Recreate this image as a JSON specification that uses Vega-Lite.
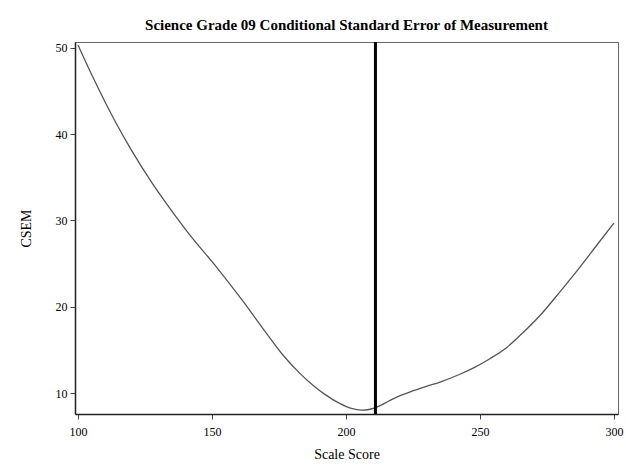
{
  "$schema": "https://vega.github.io/schema/vega-lite/v6.json",
  "width": 543,
  "height": 372,
  "autosize": {"type": "none"},
  "padding": {"left": 75, "top": 42, "right": 8, "bottom": 60},
  "background": "white",
  "title": {
    "text": "Science Grade 09 Conditional Standard Error of Measurement",
    "font": "Liberation Serif",
    "fontSize": 15,
    "fontWeight": "bold",
    "color": "black",
    "anchor": "middle",
    "offset": 8
  },
  "config": {
    "view": {"stroke": "#666", "strokeWidth": 1},
    "axis": {
      "labelFont": "Liberation Serif",
      "titleFont": "Liberation Serif",
      "labelFontSize": 12,
      "titleFontSize": 14,
      "titleFontWeight": "normal",
      "labelColor": "black",
      "titleColor": "black",
      "domainColor": "#222",
      "domainWidth": 1.5,
      "tickColor": "#444",
      "tickSize": 5,
      "grid": false
    }
  },
  "datasets": {
    "curve": [
      {"score": 100.0, "csem": 50.3},
      {"score": 106.0, "csem": 46.3},
      {"score": 113.8, "csem": 41.5},
      {"score": 120.0, "csem": 38.1},
      {"score": 127.5, "csem": 34.4},
      {"score": 134.3, "csem": 31.4},
      {"score": 141.8, "csem": 28.3},
      {"score": 151.7, "csem": 24.6},
      {"score": 161.7, "csem": 20.6},
      {"score": 170.4, "csem": 16.9},
      {"score": 176.0, "csem": 14.6},
      {"score": 182.8, "csem": 12.3},
      {"score": 187.8, "csem": 10.9},
      {"score": 192.0, "csem": 9.9},
      {"score": 197.8, "csem": 8.8},
      {"score": 202.0, "csem": 8.25},
      {"score": 205.9, "csem": 8.05},
      {"score": 209.0, "csem": 8.15},
      {"score": 211.5, "csem": 8.4},
      {"score": 216.0, "csem": 9.1},
      {"score": 220.0, "csem": 9.7},
      {"score": 225.1, "csem": 10.3},
      {"score": 230.0, "csem": 10.8},
      {"score": 235.1, "csem": 11.3},
      {"score": 242.5, "csem": 12.2},
      {"score": 248.0, "csem": 13.0},
      {"score": 253.7, "csem": 14.0},
      {"score": 260.0, "csem": 15.3},
      {"score": 266.0, "csem": 17.0},
      {"score": 272.4, "csem": 19.0},
      {"score": 280.0, "csem": 21.8},
      {"score": 287.3, "csem": 24.6},
      {"score": 294.0, "csem": 27.3},
      {"score": 300.0, "csem": 29.7}
    ],
    "cut": [{"score": 211}]
  },
  "layer": [
    {
      "data": {"name": "curve"},
      "mark": {"type": "line", "interpolate": "monotone", "color": "#555", "strokeWidth": 1.3, "clip": true},
      "encoding": {
        "x": {
          "field": "score", "type": "quantitative",
          "scale": {"domain": [98.9, 301.5], "nice": false, "zero": false},
          "axis": {"values": [100, 150, 200, 250, 300], "title": "Scale Score", "titlePadding": 10, "labelPadding": 7}
        },
        "y": {
          "field": "csem", "type": "quantitative",
          "scale": {"domain": [7.6, 50.65], "nice": false, "zero": false},
          "axis": {"values": [10, 20, 30, 40, 50], "title": "CSEM", "titlePadding": 22, "labelPadding": 3}
        }
      }
    },
    {
      "data": {"name": "cut"},
      "mark": {"type": "rule", "color": "black", "strokeWidth": 3},
      "encoding": {
        "x": {"field": "score", "type": "quantitative"}
      }
    }
  ]
}
